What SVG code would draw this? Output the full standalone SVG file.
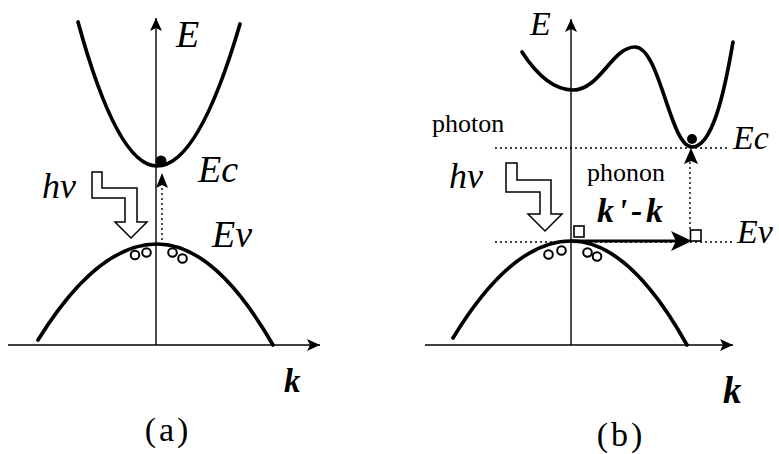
<svg xmlns="http://www.w3.org/2000/svg" width="779" height="454" viewBox="0 0 779 454">
<style>
.band{fill:none;stroke:#000;stroke-width:3.7;stroke-linecap:round}
.axis{fill:none;stroke:#000;stroke-width:1.4}
.dot{fill:none;stroke:#000;stroke-width:1.4;stroke-dasharray:2 3}
.hollow{fill:#fff;stroke:#000;stroke-width:1.5;stroke-linejoin:miter}
.hole{fill:#fff;stroke:#000;stroke-width:2}
.it{font-family:"Liberation Serif","DejaVu Serif","Times New Roman",serif;font-style:italic;fill:#000}
.bi{font-family:"Liberation Serif","DejaVu Serif","Times New Roman",serif;font-style:italic;font-weight:bold;fill:#000}
.rm{font-family:"Liberation Serif","DejaVu Serif","Times New Roman",serif;fill:#000}
</style>
<defs>
<marker id="ah" markerUnits="userSpaceOnUse" markerWidth="14" markerHeight="12" refX="13" refY="6" orient="auto">
<path d="M0,0 L13,6 L0,12 L3,6 Z" fill="#000"/>
</marker>
</defs>
<rect width="779" height="454" fill="#fff"/>

<g id="panel-a">
<g id="axes-a">
<line class="axis" x1="8" y1="345" x2="320" y2="345" marker-end="url(#ah)"/>
<line class="axis" x1="156" y1="345" x2="156" y2="18" marker-end="url(#ah)"/>
</g>
<g id="bands-a">
<path class="band" d="M78,22 Q117.5,166 157,166 Q198.5,166 240,24"/>
<path class="band" d="M38,340 Q97.5,244 157,244 Q215,244 273,345"/>
</g>
<g id="transition-a">
<line class="dot" x1="162" y1="240" x2="162" y2="186"/>
<path d="M162,173 L168,188 L162,185 L156,188 Z" fill="#000"/>
<circle cx="161" cy="161" r="5.5" fill="#000"/>
</g>
<g id="holes-a">
<circle class="hole" cx="135" cy="255" r="4.3"/>
<circle class="hole" cx="146.5" cy="252.5" r="4.3"/>
<circle class="hole" cx="172.5" cy="252.5" r="4.3"/>
<circle class="hole" cx="182.5" cy="258.5" r="4.3"/>
</g>
<g id="photon-a">
<polygon class="hollow" points="92,172 102,172 102,188 137,188 137,222 147,222 131,238 115,222 125,222 125,198 92,198"/>
</g>
<g id="labels-a">
<text class="it" x="176" y="47" font-size="38">E</text>
<text class="it" x="198" y="182" font-size="38">Ec</text>
<text class="it" x="212" y="247" font-size="38">Ev</text>
<text class="it" x="42" y="198" font-size="36">hν</text>
<text class="bi" x="284" y="392" font-size="33">k</text>
<text class="rm" x="168" y="441" font-size="34" text-anchor="middle" letter-spacing="3">(a)</text>
</g>
</g>

<g id="panel-b">
<g id="axes-b">
<line class="axis" x1="425" y1="345" x2="733" y2="345" marker-end="url(#ah)"/>
<line class="axis" x1="571" y1="345" x2="571" y2="19" marker-end="url(#ah)"/>
</g>
<g id="guides-b">
<line class="dot" x1="495" y1="148" x2="728" y2="148"/>
<line class="dot" x1="495" y1="242" x2="733" y2="242"/>
<line class="dot" x1="690" y1="229" x2="690" y2="162"/>
</g>
<g id="bands-b">
<path class="band" d="M522,52 C535,72 552,90 573,90 C600,90 612,47 635,47 C660,47 670,147 692,147 C712,147 724,95 733,42"/>
<path class="band" d="M453,338 Q512,241 571,241 Q629,241 687,345"/>
</g>
<g id="transition-b">
<path d="M691,148 L698,164 L691,161 L684,164 Z" fill="#000"/>
<circle cx="692" cy="139" r="5" fill="#000"/>
<line x1="572" y1="241" x2="676" y2="241" stroke="#000" stroke-width="3"/>
<path d="M692,241 L671,231 L676,241 L671,251 Z" fill="#000"/>
<rect x="574" y="226" width="10" height="11" fill="#fff" stroke="#000" stroke-width="1.6"/>
<rect x="690.5" y="230" width="10.5" height="11" fill="#fff" stroke="#000" stroke-width="1.6"/>
</g>
<g id="holes-b">
<circle class="hole" cx="548.5" cy="254.5" r="4.3"/>
<circle class="hole" cx="561.5" cy="250.5" r="4.3"/>
<circle class="hole" cx="587.5" cy="252.5" r="4.3"/>
<circle class="hole" cx="597" cy="256.5" r="4.3"/>
</g>
<g id="photon-b">
<polygon class="hollow" points="506,163 517,163 517,180 551,180 551,214 562,214 545,231 528,214 540,214 540,192 506,192"/>
</g>
<g id="labels-b">
<text class="it" x="530" y="35" font-size="34">E</text>
<text class="it" x="733" y="149" font-size="34">Ec</text>
<text class="it" x="737" y="243" font-size="34">Ev</text>
<text class="it" x="449" y="188" font-size="36">hν</text>
<text class="rm" x="432" y="132" font-size="26">photon</text>
<text class="rm" x="587" y="181" font-size="26">phonon</text>
<text class="bi" x="597" y="222" font-size="34" textLength="66" lengthAdjust="spacing">k'-k</text>
<text class="bi" x="723" y="403" font-size="37">k</text>
<text class="rm" x="621" y="446" font-size="34" text-anchor="middle" letter-spacing="3">(b)</text>
</g>
</g>
</svg>
